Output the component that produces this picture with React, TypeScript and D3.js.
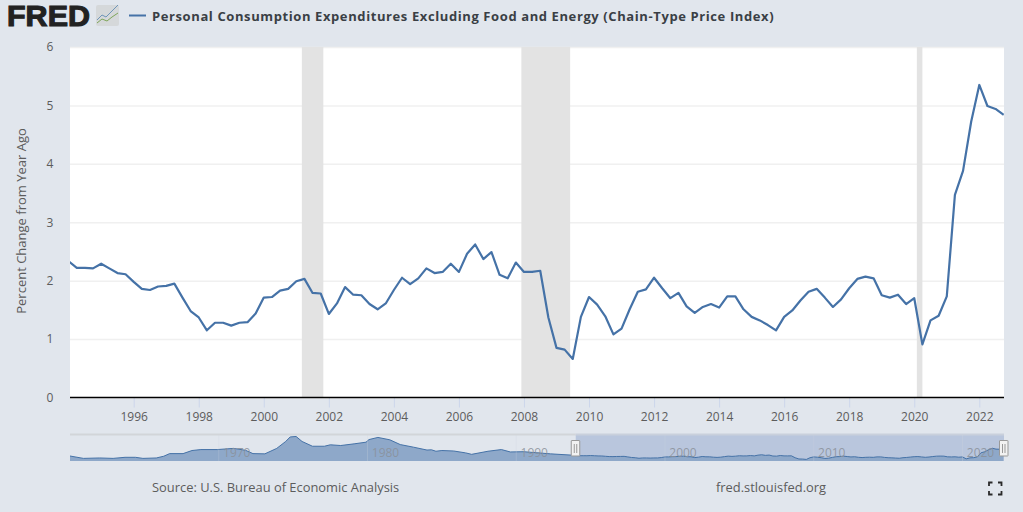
import * as d3 from "d3";
import { useEffect, useRef } from "react";

// quarterly values, 1994 Q1 to 2022 Q4
const pceValues = [
  2.33, 2.22, 2.22, 2.21, 2.29, 2.21, 2.13, 2.11, 1.98, 1.86, 1.84, 1.9,
  1.91, 1.95, 1.71, 1.48, 1.37, 1.15, 1.28, 1.28, 1.23, 1.28, 1.29, 1.44,
  1.71, 1.72, 1.83, 1.86, 1.99, 2.03, 1.79, 1.78, 1.43, 1.61, 1.89, 1.76,
  1.75, 1.6, 1.51, 1.61, 1.84, 2.05, 1.94, 2.04, 2.21, 2.13, 2.15, 2.29,
  2.15, 2.46, 2.62, 2.37, 2.49, 2.1, 2.04, 2.31, 2.15, 2.15, 2.17, 1.37,
  0.85, 0.82, 0.66, 1.38, 1.72, 1.59, 1.39, 1.08, 1.18, 1.51, 1.81, 1.85,
  2.05, 1.87, 1.7, 1.79, 1.56, 1.45, 1.55, 1.6, 1.54, 1.73, 1.73, 1.51,
  1.38, 1.32, 1.24, 1.15, 1.38, 1.49, 1.66, 1.81, 1.86, 1.71, 1.55, 1.68,
  1.87, 2.03, 2.07, 2.04, 1.75, 1.71, 1.76, 1.6, 1.7, 0.91, 1.32, 1.4,
  1.73, 3.47, 3.88, 4.72, 5.35, 4.99, 4.94, 4.84,
];
const pceYears = pceValues.map((_, i) => 1994 + i / 4);

// older part of the series, only visible in the navigator
const historyYears = [
  1960, 1960.9, 1962, 1962.9, 1963.7, 1964.4, 1964.9, 1965.8, 1966.3, 1966.7,
  1967.6, 1968.2, 1968.8, 1969.9, 1971, 1971.8, 1972.3, 1973.1, 1973.9, 1974.5,
  1974.8, 1975.2, 1975.6, 1976.3, 1977.1, 1977.5, 1978.2, 1979.1, 1979.9, 1980.1,
  1980.7, 1981.5, 1982.2, 1983.1, 1984, 1984.3, 1984.6, 1985, 1985.8, 1986.6,
  1987, 1988.1, 1989, 1989.6, 1990.5, 1992.3, 1993.9,
];
const historyValues = [
  2.1, 1.1, 1.27, 1.1, 1.55, 1.55, 1.1, 1.27, 2, 3.1,
  3.1, 4.4, 4.8, 4.8, 5.3, 4.5, 3.1, 3, 5.3, 8.2,
  10.1, 10.3, 8.2, 6.2, 6.2, 6.8, 6.5, 7.2, 7.9, 9,
  9.9, 8.9, 6.9, 5.8, 4.6, 4.7, 4.1, 4.4, 4.2, 3.4,
  2.8, 4.1, 4.8, 3.8, 3.9, 3, 2.4,
];

const recessionStarts = [2001.17, 2007.92, 2020.08];
const recessionEnds = [2001.83, 2009.42, 2020.25];

const yTicks = [0, 1, 2, 3, 4, 5, 6];
const xTicks = d3.range(1996, 2023, 2);
const navTicks = [1970, 1980, 1990, 2000, 2010, 2020];

const title = "Personal Consumption Expenditures Excluding Food and Energy (Chain-Type Price Index)";
const yTitle = "Percent Change from Year Ago";
const source = "Source: U.S. Bureau of Economic Analysis";
const site = "fred.stlouisfed.org";

const width = 1023;
const height = 512;
const plot = { left: 70, right: 1004, top: 47, bottom: 397.5 };
const nav = { top: 435, bottom: 461 };
const font = "'Open Sans', sans-serif";
const lineColor = "#4572a7";
const textColor = "#5c5c5c";

const App = () => {
  const ref = useRef<SVGSVGElement>(null);

  useEffect(() => {
    const svg = d3.select(ref.current);
    svg.selectAll("*").remove();

    svg.append("rect").attr("width", width).attr("height", height).attr("fill", "#e1e6ed");

    const xScale = d3.scaleLinear().domain([1996, 2022]).range([133.7, 979.3]);
    const yScale = d3.scaleLinear().domain([0, 6]).range([plot.bottom, plot.top]);

    // header: logo, legend, title
    const logo = svg.append("g");
    logo.append("text")
      .attr("x", 7).attr("y", 26)
      .attr("font-family", "'Liberation Sans', sans-serif")
      .attr("font-weight", 700).attr("font-size", 29)
      .attr("fill", "#222").attr("stroke", "#222").attr("stroke-width", 1.1)
      .attr("textLength", 83).attr("lengthAdjust", "spacingAndGlyphs")
      .text("FRED");
    logo.append("rect")
      .attr("x", 96).attr("y", 5).attr("width", 23).attr("height", 21).attr("rx", 2)
      .attr("fill", "#d5d8da");
    logo.append("path").attr("d", "M97 20L102 15L106 17L112 11L118 5")
      .attr("fill", "none").attr("stroke", "#6f95b8").attr("stroke-width", 1);
    logo.append("path").attr("d", "M97 23L102 19L107 21L112 17L118 13")
      .attr("fill", "none").attr("stroke", "#7fa65a").attr("stroke-width", 1);

    svg.append("line")
      .attr("x1", 129).attr("x2", 146).attr("y1", 15.5).attr("y2", 15.5)
      .attr("stroke", lineColor).attr("stroke-width", 2);
    svg.append("text")
      .attr("x", 152).attr("y", 20.5)
      .attr("font-family", font).attr("font-weight", 700).attr("font-size", 13)
      .attr("letter-spacing", 0.6).attr("fill", "#3a3f45")
      .text(title);

    // plot area
    svg.append("rect")
      .attr("x", plot.left).attr("y", plot.top)
      .attr("width", plot.right - plot.left).attr("height", plot.bottom - plot.top)
      .attr("fill", "#fff");

    svg.append("defs").append("clipPath").attr("id", "plot-clip")
      .append("rect")
      .attr("x", plot.left).attr("y", plot.top)
      .attr("width", plot.right - plot.left).attr("height", plot.bottom - plot.top);

    // gridlines and y labels
    const yAxis = d3.axisLeft(yScale)
      .tickValues(yTicks)
      .tickSize(-(plot.right - plot.left))
      .tickPadding(16)
      .tickFormat(d3.format("d"));
    const yG = svg.append("g")
      .attr("transform", `translate(${plot.left},0)`)
      .call(yAxis);
    yG.select(".domain").remove();
    yG.selectAll(".tick line").attr("stroke", "#f0f0f0").attr("stroke-width", 1.5);
    yG.selectAll(".tick text")
      .attr("font-family", font).attr("font-size", 12).attr("fill", textColor)
      .attr("text-anchor", "middle").attr("x", -20);

    svg.append("g")
      .attr("clip-path", "url(#plot-clip)")
      .selectAll("rect")
      .data(recessionStarts)
      .join("rect")
      .attr("x", (d) => xScale(d))
      .attr("width", (d, i) => xScale(recessionEnds[i]) - xScale(d))
      .attr("y", plot.top)
      .attr("height", plot.bottom - plot.top)
      .attr("fill", "#e3e3e3");

    const line = d3.line<number>()
      .x((_, i) => xScale(pceYears[i]))
      .y((d) => yScale(d));
    svg.append("path")
      .attr("clip-path", "url(#plot-clip)")
      .attr("d", line(pceValues))
      .attr("fill", "none")
      .attr("stroke", lineColor)
      .attr("stroke-width", 2.2)
      .attr("stroke-linejoin", "round");

    // x axis
    const xAxis = d3.axisBottom(xScale)
      .tickValues(xTicks)
      .tickSize(10)
      .tickPadding(5)
      .tickFormat(d3.format("d"));
    const xG = svg.append("g")
      .attr("transform", `translate(0,${plot.bottom})`)
      .call(xAxis);
    xG.select(".domain").remove();
    xG.selectAll(".tick line").attr("stroke", "#ccd6eb");
    xG.selectAll(".tick text")
      .attr("font-family", font).attr("font-size", 12).attr("fill", textColor);
    svg.append("line")
      .attr("x1", plot.left).attr("x2", plot.right)
      .attr("y1", plot.bottom).attr("y2", plot.bottom)
      .attr("stroke", "#000").attr("stroke-width", 1.6);

    svg.append("text")
      .attr("transform", `translate(26,221) rotate(-90)`)
      .attr("text-anchor", "middle")
      .attr("font-family", font).attr("font-size", 13).attr("fill", textColor)
      .text(yTitle);

    // navigator
    const navX = d3.scaleLinear().domain([1960, 2000]).range([70, 665]);
    const navY = d3.scaleLinear().domain([0, 10.5]).range([nav.bottom, nav.top + 1]);
    const navYears = historyYears.concat(pceYears);
    const navValues = historyValues.concat(pceValues);
    const selectedStart = navX(1994);

    svg.append("rect")
      .attr("x", selectedStart).attr("y", nav.top)
      .attr("width", plot.right - selectedStart).attr("height", nav.bottom - nav.top)
      .attr("fill", "#b9c6dd");
    svg.append("line")
      .attr("x1", plot.left).attr("x2", selectedStart)
      .attr("y1", nav.top - 0.5).attr("y2", nav.top - 0.5)
      .attr("stroke", "#d2d5d9").attr("stroke-width", 2);
    svg.append("line")
      .attr("x1", selectedStart).attr("x2", plot.right)
      .attr("y1", nav.top - 0.5).attr("y2", nav.top - 0.5)
      .attr("stroke", "#c9d0dc").attr("stroke-width", 2);

    const navIdx = d3.range(navValues.length);
    const navArea = d3.area<number>()
      .x((i) => navX(navYears[i]))
      .y0(nav.bottom)
      .y1((i) => navY(navValues[i]));
    const navLine = d3.line<number>()
      .x((i) => navX(navYears[i]))
      .y((i) => navY(navValues[i]));
    svg.append("path").attr("d", navArea(navIdx)).attr("fill", "#8ea8c9");
    svg.append("path")
      .attr("d", navLine(navIdx))
      .attr("fill", "none")
      .attr("stroke", lineColor)
      .attr("stroke-width", 1);

    const navAxis = svg.append("g").selectAll("g").data(navTicks).join("g")
      .attr("transform", (d) => `translate(${navX(d)},0)`);
    navAxis.append("line")
      .attr("y1", nav.top).attr("y2", nav.bottom)
      .attr("stroke", "#d5d9e0").attr("stroke-opacity", 0.25);
    navAxis.append("text")
      .attr("x", 18).attr("y", 457)
      .attr("text-anchor", "middle")
      .attr("font-family", font).attr("font-size", 12)
      .attr("fill", "#8a9099").attr("fill-opacity", 0.85)
      .text((d) => d);

    // handles on both ends of the selected range
    const handles = svg.append("g").selectAll("g")
      .data([selectedStart, plot.right])
      .join("g")
      .attr("transform", (d) => `translate(${d},0)`);
    handles.append("rect")
      .attr("x", -4.5).attr("y", 440.5).attr("width", 8.5).attr("height", 15.5).attr("rx", 0.5)
      .attr("fill", "#f2f2f2").attr("stroke", "#999");
    handles.selectAll("line").data([-1.5, 1]).join("line")
      .attr("x1", (d) => d).attr("x2", (d) => d)
      .attr("y1", 444).attr("y2", 453)
      .attr("stroke", "#999");

    // footer
    svg.append("text")
      .attr("x", 152).attr("y", 491.5)
      .attr("font-family", font).attr("font-size", 12.9).attr("fill", textColor)
      .text(source);
    svg.append("text")
      .attr("x", 716).attr("y", 491.5)
      .attr("font-family", font).attr("font-size", 12.9).attr("fill", textColor)
      .text(site);

    // fullscreen icon
    svg.append("path")
      .attr("d", "M989 486V482.5H992.5M998 482.5H1001.5V486M1001.5 491V494.5H998M992.5 494.5H989V491")
      .attr("fill", "none")
      .attr("stroke", "#2a2a2a")
      .attr("stroke-width", 1.8);
  }, []);

  return (
    <svg
      ref={ref}
      width={width}
      height={height}
      style={{ position: "absolute", left: 0, top: 0 }}
    />
  );
};

export default App;
